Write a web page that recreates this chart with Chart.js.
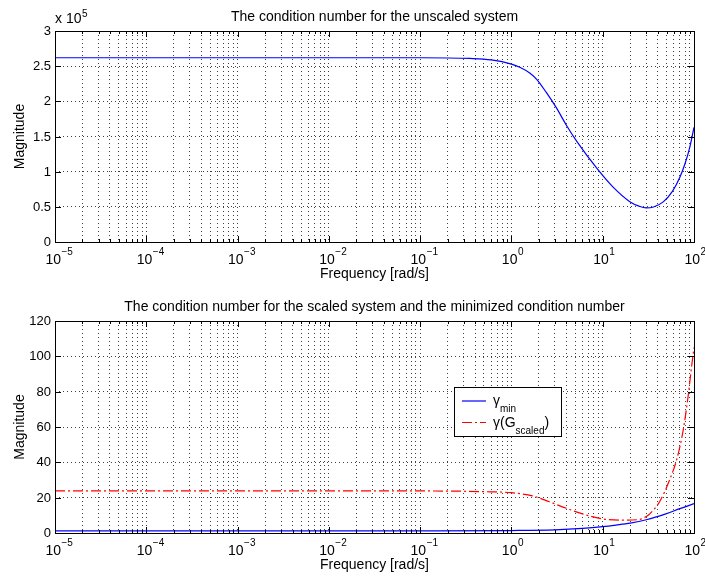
<!DOCTYPE html>
<html>
<head>
<meta charset="utf-8">
<script src="https://cdn.jsdelivr.net/npm/chart.js@4/dist/chart.umd.min.js"></script>
<style>
  body { margin: 0; background: #fff; }
  #wrap { position: relative; width: 705px; height: 579px; }
  canvas { position: absolute; left: 0; }
</style>
</head>
<body>
<div id="wrap">
  <canvas id="topChart" width="705" height="290" style="top:0"></canvas>
  <canvas id="bottomChart" width="705" height="289" style="top:290px"></canvas>
</div>
<script>
// top plot: condition number of the unscaled system
const freqTop = [1e-5, 1e-3, 0.1, 0.35, 0.6, 1, 1.25, 1.6, 1.9, 2.4, 3.1, 4, 5.2, 8.6, 13, 20, 25, 30, 36, 46, 58, 70, 80, 90, 100];
const condUnscaled = [262000, 262000, 262000, 261000, 259000, 253000, 248000, 240000, 231000, 213000, 191000, 166000, 143000, 105000, 78000, 57000, 51000, 48500, 49800, 57000, 72000, 92000, 112000, 135000, 163000];

// bottom plot: minimized condition number and scaled system
const freqMin = [1e-5, 1e-3, 0.1, 1, 3, 6, 10, 14, 20, 30, 50, 70, 100];
const gammaMin = [1.2, 1.2, 1.2, 1.4, 1.8, 2.6, 3.6, 4.5, 5.6, 7.5, 11.0, 13.8, 16.6];
const freqScaled = [1e-5, 1e-3, 0.1, 0.5, 1, 1.7, 2.6, 4, 6, 10, 17, 25, 30, 33, 42, 54, 65, 76, 86, 94, 100];
const gammaScaled = [23.8, 23.8, 23.8, 23.4, 22.8, 21, 17.7, 14, 10.8, 8.0, 7.3, 7.6, 9.3, 11, 17.7, 30, 42, 58, 77, 94, 105];

// axes ticks
const xExponents = [-5, -4, -3, -2, -1, 0, 1, 2];
const xMinorSteps = [2, 3, 4, 5, 6, 7, 8, 9];
const yTicksTop = [0, 50000, 100000, 150000, 200000, 250000, 300000];
const yLabelsTop = ['0', '0.5', '1', '1.5', '2', '2.5', '3'];
const yTicksBottom = [0, 20, 40, 60, 80, 100, 120];
const yLabelsBottom = ['0', '20', '40', '60', '80', '100', '120'];

const FONT = '"Liberation Sans", Arial, Helvetica, sans-serif';

function xGridValues() {
  const vals = [];
  xExponents.forEach(function(e, i) {
    vals.push(Math.pow(10, e));
    if (i < xExponents.length - 1) {
      xMinorSteps.forEach(m => vals.push(m * Math.pow(10, e)));
    }
  });
  return vals;
}

function isDecade(v) {
  const l = Math.log10(v);
  return Math.abs(l - Math.round(l)) < 1e-9;
}

// draws the matlab-like box, ticks, labels and titles
const matlabAxes = {
  id: 'matlabAxes',
  afterDraw(chart, args, opts) {
    const ctx = chart.ctx;
    const a = chart.chartArea;
    const xs = chart.scales.x, ys = chart.scales.y;
    ctx.save();
    ctx.strokeStyle = '#000';
    ctx.fillStyle = '#000';
    ctx.lineWidth = 1;
    ctx.setLineDash([]);

    // tick marks
    ctx.beginPath();
    xGridValues().forEach(v => {
      const px = Math.round(xs.getPixelForValue(v)) + 0.5;
      const len = isDecade(v) ? 6 : 3;
      ctx.moveTo(px, a.bottom); ctx.lineTo(px, a.bottom - len);
      ctx.moveTo(px, a.top); ctx.lineTo(px, a.top + len);
    });
    opts.yTicks.forEach(v => {
      const py = Math.round(ys.getPixelForValue(v)) + 0.5;
      ctx.moveTo(a.left, py); ctx.lineTo(a.left + 6, py);
      ctx.moveTo(a.right, py); ctx.lineTo(a.right - 6, py);
    });
    ctx.stroke();

    // box
    ctx.strokeRect(Math.round(a.left) + 0.5, Math.round(a.top) + 0.5,
      Math.round(a.right - a.left), Math.round(a.bottom - a.top));

    // y tick labels
    ctx.font = '13px ' + FONT;
    ctx.textAlign = 'right';
    ctx.textBaseline = 'middle';
    opts.yTicks.forEach((v, i) => {
      ctx.fillText(opts.yLabels[i], a.left - 4, ys.getPixelForValue(v) + 0.5);
    });

    // x tick labels 10^n
    ctx.textBaseline = 'alphabetic';
    xExponents.forEach(e => {
      const px = xs.getPixelForValue(Math.pow(10, e));
      ctx.font = '14px ' + FONT;
      ctx.textAlign = 'right';
      ctx.fillText('10', px + 6, a.bottom + 21.5);
      ctx.font = '10px ' + FONT;
      ctx.textAlign = 'left';
      ctx.fillText(e < 0 ? '\u2212' + Math.abs(e) : String(e), px + 6.5, a.bottom + 13);
    });

    // titles
    ctx.font = '14px ' + FONT;
    ctx.textAlign = 'center';
    ctx.fillText(opts.title, (a.left + a.right) / 2, a.top - 10);
    ctx.fillText('Frequency [rad/s]', (a.left + a.right) / 2, a.bottom + 36);

    ctx.save();
    ctx.translate(24, (a.top + a.bottom) / 2);
    ctx.rotate(-Math.PI / 2);
    ctx.fillText('Magnitude', 0, 0);
    ctx.restore();

    if (opts.exponent) {
      ctx.textAlign = 'left';
      ctx.font = '14px ' + FONT;
      ctx.fillText('x 10', a.left, a.top - 7.7);
      ctx.font = '10px ' + FONT;
      ctx.fillText(opts.exponent, a.left + 27, a.top - 14.3);
    }

    if (opts.legend) {
      const lx = a.left + 399, ly = a.top + 66;
      ctx.fillStyle = '#fff';
      ctx.fillRect(lx, ly, 107, 49);
      ctx.strokeStyle = '#000';
      ctx.strokeRect(lx + 0.5, ly + 0.5, 107, 49);
      chart.data.datasets.forEach((ds, i) => {
        const rowY = ly + 14 + i * 21.5;
        ctx.strokeStyle = ds.borderColor;
        ctx.lineWidth = ds.borderWidth;
        ctx.setLineDash(ds.borderDash || []);
        ctx.beginPath();
        ctx.moveTo(lx + 8, rowY); ctx.lineTo(lx + 32, rowY);
        ctx.stroke();
        ctx.setLineDash([]);
        ctx.fillStyle = '#000';
        const parts = opts.legend[i];
        let tx = lx + 39;
        parts.forEach(p => {
          ctx.font = (p.sub ? '10px ' : '14px ') + FONT;
          ctx.textAlign = 'left';
          ctx.fillText(p.t, tx, rowY + (p.sub ? 11 : 4));
          tx += ctx.measureText(p.t).width;
        });
      });
    }
    ctx.restore();
  }
};

function makeChart(id, datasets, yMax, yStep, axesOpts, xHeight) {
  const gridStyle = { color: 'rgba(0,0,0,0.75)', lineWidth: 1, drawTicks: false, tickLength: 0 };
  return new Chart(document.getElementById(id), {
    type: 'line',
    data: { datasets: datasets },
    options: {
      responsive: false,
      animation: false,
      events: [],
      layout: { padding: { left: 0, right: 11, top: 31, bottom: 0 } },
      plugins: {
        legend: { display: false },
        title: { display: false },
        tooltip: { enabled: false },
        matlabAxes: axesOpts
      },
      elements: { point: { radius: 0 } },
      scales: {
        x: {
          type: 'logarithmic',
          min: 1e-5,
          max: 100,
          ticks: { display: false },
          grid: gridStyle,
          border: { display: false, dash: [1, 3] },
          afterBuildTicks: s => { s.ticks = xGridValues().map(v => ({ value: v })); },
          afterFit: s => { s.height = xHeight; }
        },
        y: {
          type: 'linear',
          min: 0,
          max: yMax,
          ticks: { display: false, stepSize: yStep },
          grid: gridStyle,
          border: { display: false, dash: [1, 3] },
          afterFit: s => { s.width = 55; }
        }
      }
    },
    plugins: [matlabAxes]
  });
}

makeChart('topChart', [{
  label: 'unscaled',
  data: freqTop.map((f, i) => ({ x: f, y: condUnscaled[i] })),
  borderColor: '#0000ff',
  borderWidth: 1.2,
  cubicInterpolationMode: 'monotone',
  fill: false
}], 300000, 50000, {
  title: 'The condition number for the unscaled system',
  yTicks: yTicksTop,
  yLabels: yLabelsTop,
  exponent: '5'
}, 48);

makeChart('bottomChart', [{
  label: 'gamma_min',
  data: freqMin.map((f, i) => ({ x: f, y: gammaMin[i] })),
  borderColor: '#0000ff',
  borderWidth: 1.2,
  cubicInterpolationMode: 'monotone',
  fill: false
}, {
  label: 'gamma(G_scaled)',
  data: freqScaled.map((f, i) => ({ x: f, y: gammaScaled[i] })),
  borderColor: '#ff0000',
  borderWidth: 1.2,
  borderDash: [10, 3, 2, 3],
  cubicInterpolationMode: 'monotone',
  fill: false
}], 120, 20, {
  title: 'The condition number for the scaled system and the minimized condition number',
  yTicks: yTicksBottom,
  yLabels: yLabelsBottom,
  legend: [
    [{ t: '\u03b3' }, { t: 'min', sub: true }],
    [{ t: '\u03b3(G' }, { t: 'scaled', sub: true }, { t: ')' }]
  ]
}, 46);
</script>
</body>
</html>
